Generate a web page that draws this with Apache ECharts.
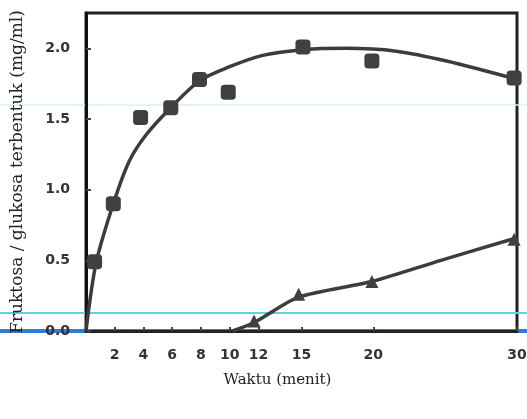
<!DOCTYPE html>
<html>
<head>
<meta charset="utf-8">
<script src="https://cdn.jsdelivr.net/npm/echarts@6/dist/echarts.min.js"></script>
<style>html,body{margin:0;padding:0;background:#fff;}#c{width:527px;height:419px;}</style>
</head>
<body>
<div id="c"></div>
<script>
// x ticks (menit)
var xTicks = [2, 4, 6, 8, 10, 12, 15, 20, 30];
// fitted upper curve
var upperCurve = [[0,0],[0.7,0.48],[1.9,0.9],[3,1.2],[4.2,1.39],[5.9,1.58],[7.9,1.77],[10,1.87],[12.3,1.95],[15.1,1.99],[18.1,2.0],[21.6,1.98],[25.1,1.91],[30,1.78]];
// fitted lower curve
var lowerCurve = [[10.2,0],[11.7,0.06],[14.8,0.24],[19.9,0.35],[24.7,0.5],[30,0.66]];
// measured points
var upperPoints = [[0.6,0.49],[1.9,0.9],[3.8,1.51],[5.9,1.58],[7.9,1.78],[9.9,1.69],[15.1,2.01],[19.9,1.91],[29.8,1.79]];
var lowerPoints = [[11.7,0.07],[14.8,0.26],[19.9,0.35],[29.8,0.65]];

var ink = '#3c3c3c';
var chart = echarts.init(document.getElementById('c'), null, {renderer: 'canvas'});
chart.setOption({
  animation: false,
  backgroundColor: '#fff',
  grid: {left: 86, right: 10, top: 13, bottom: 88, outerBoundsMode: 'none', containLabel: false,
    show: true, borderColor: '#222', borderWidth: 3, backgroundColor: 'transparent'},
  xAxis: {
    type: 'value', min: 0, max: 30,
    name: 'Waktu (menit)', nameLocation: 'middle', nameGap: 42,
    nameTextStyle: {fontFamily: 'DejaVu Serif', fontSize: 15, color: '#222', padding: [0, 48, 0, 0]},
    axisLine: {show: true, lineStyle: {color: '#222', width: 3}},
    axisTick: {show: true, inside: true, length: 4, customValues: xTicks, lineStyle: {color: '#444', width: 2}},
    axisLabel: {customValues: xTicks, margin: 17, fontFamily: 'DejaVu Sans', fontWeight: 'bold', fontSize: 14, color: '#333'},
    splitLine: {show: false}
  },
  yAxis: {
    type: 'value', min: 0, max: 2.25, interval: 0.5,
    name: 'Fruktosa / glukosa terbentuk (mg/ml)', nameLocation: 'middle', nameGap: 60,
    nameTextStyle: {fontFamily: 'DejaVu Serif', fontSize: 17, color: '#222'},
    axisLine: {show: true, lineStyle: {color: '#111', width: 3}},
    axisTick: {show: true, inside: true, length: 5, lineStyle: {color: '#444', width: 2}},
    axisLabel: {showMaxLabel: false, margin: 16, fontFamily: 'DejaVu Sans', fontWeight: 'bold', fontSize: 14, color: '#333',
      formatter: function (v) { return v.toFixed(1); }},
    splitLine: {show: false}
  },
  graphic: [
    {type: 'line', shape: {x1: 0, y1: 105, x2: 527, y2: 105}, style: {stroke: '#d6f1f8', lineWidth: 1.5}, z: 0},
    {type: 'line', shape: {x1: 0, y1: 313, x2: 527, y2: 313}, style: {stroke: '#5fd0ea', lineWidth: 2}, z: 0},
    {type: 'line', shape: {x1: 0, y1: 331, x2: 527, y2: 331}, style: {stroke: '#2a7fd8', lineWidth: 4}, z: 0}
  ],
  series: [
    {type: 'line', data: upperCurve, smooth: 0.3, showSymbol: false, lineStyle: {color: ink, width: 3.5}, z: 3},
    {type: 'line', data: lowerCurve, smooth: 0.25, showSymbol: false, lineStyle: {color: ink, width: 3.5}, z: 3},
    {type: 'scatter', data: upperPoints, symbol: 'roundRect', symbolSize: 15, itemStyle: {color: '#404040', opacity: 1}, z: 4},
    {type: 'scatter', data: lowerPoints, symbol: 'triangle', symbolSize: 13, itemStyle: {color: '#404040', opacity: 1}, z: 4}
  ]
});
</script>
</body>
</html>
